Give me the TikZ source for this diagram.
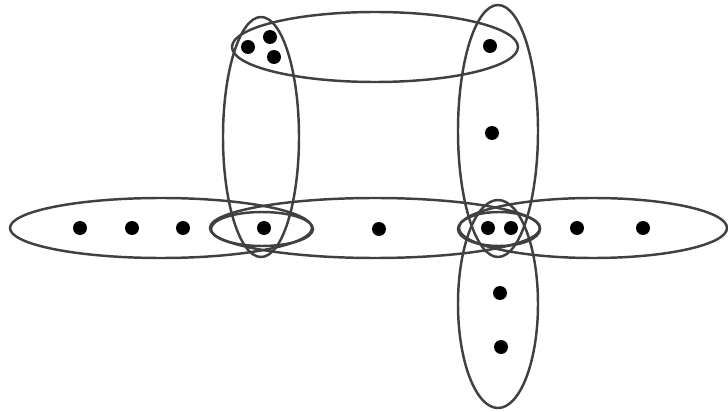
\documentclass[tikz,border=0pt]{standalone}
\begin{document}
\begin{tikzpicture}[x=0.02cm, y=-0.02cm,
  dot/.style={circle, fill=black, inner sep=0pt, minimum size=0.28cm},
  hedge/.style={draw=black!75, line width=1.4pt}]
\useasboundingbox (0,0) rectangle (728,412);
% hyperedges
\draw[hedge] (375,47) ellipse [x radius=143, y radius=35];
\draw[hedge] (261,137) ellipse [x radius=38, y radius=120];
\draw[hedge] (498,131) ellipse [x radius=40, y radius=126];
\draw[hedge] (498,304) ellipse [x radius=40, y radius=104];
\draw[hedge] (161,228) ellipse [x radius=151, y radius=30];
\draw[hedge] (375,228) ellipse [x radius=165, y radius=30];
\draw[hedge] (593,228) ellipse [x radius=134, y radius=30];
\draw[hedge] (262,229) ellipse [x radius=51, y radius=17];
\draw[hedge] (499,229) ellipse [x radius=41, y radius=17];
% vertices
\node[dot] (t1) at (248,47) {};
\node[dot] (t2) at (270,37) {};
\node[dot] (t3) at (274,57) {};
\node[dot] (t4) at (490,46) {};
\node[dot] (r1) at (492,133) {};
\node[dot] (h1) at (80,228) {};
\node[dot] (h2) at (132,228) {};
\node[dot] (h3) at (183,228) {};
\node[dot] (h4) at (264,228) {};
\node[dot] (h5) at (379,229) {};
\node[dot] (h6) at (488,228) {};
\node[dot] (h7) at (511,228) {};
\node[dot] (h8) at (577,228) {};
\node[dot] (h9) at (643,228) {};
\node[dot] (b1) at (500,293) {};
\node[dot] (b2) at (501,347) {};
\end{tikzpicture}
\end{document}
